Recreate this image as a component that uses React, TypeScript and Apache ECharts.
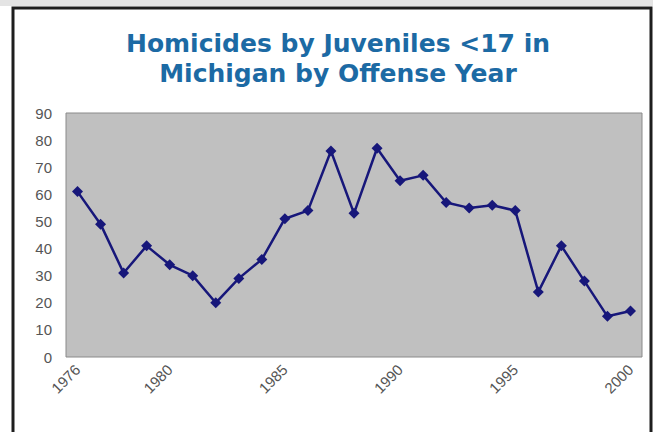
import React, { useEffect, useRef } from "react";
import * as echarts from "echarts";

const years: string[] = [
  "1976","1977","1978","1979","1980","1981","1982","1983","1984","1985",
  "1986","1987","1988","1989","1990","1991","1992","1993","1994","1995",
  "1996","1997","1998","1999","2000",
];
const homicides: number[] = [
  61, 49, 31, 41, 34, 30, 20, 29, 36, 51,
  54, 76, 53, 77, 65, 67, 57, 55, 56, 54,
  24, 41, 28, 15, 17,
];
const shownYearLabels: string[] = ["1976", "1980", "1985", "1990", "1995", "2000"];
const titleLines: string[] = ["Homicides by Juveniles <17 in", "Michigan by Offense Year"];

export default function App() {
  const ref = useRef<HTMLDivElement>(null);
  useEffect(() => {
    if (!ref.current) return;
    const chart = echarts.init(ref.current, null, { renderer: "svg" });
    chart.setOption({
      animation: false,
      backgroundColor: "#ffffff",
      title: {
        text: titleLines.join("\n"),
        left: 333,
        top: 23,
        textAlign: "center",
        textStyle: {
          color: "#1c6aa4",
          fontFamily: "DejaVu Sans, Verdana, sans-serif",
          fontWeight: "bold",
          fontSize: 25,
          lineHeight: 30,
        },
      },
      graphic: [
        {
          type: "rect",
          shape: { x: 0, y: 0, width: 653, height: 6 },
          style: { fill: "#e4e4e4" },
          silent: true,
        },
        {
          type: "polyline",
          shape: { points: [[13, 440], [13, 8], [651, 8], [651, 440]] },
          style: { stroke: "#1e1e1e", lineWidth: 3, fill: "none" },
          silent: true,
        },
      ],
      grid: {
        left: 66,
        right: 11,
        top: 113,
        bottom: 75,
        show: true,
        backgroundColor: "#c0c0c0",
        borderColor: "#8a8a8a",
        borderWidth: 1,
      },
      xAxis: {
        type: "category",
        data: years,
        boundaryGap: true,
        axisLine: { show: false },
        axisTick: { show: false },
        splitLine: { show: false },
        axisLabel: {
          interval: (_i: number, v: string) => shownYearLabels.includes(v),
          rotate: 45,
          margin: 10,
          color: "#555",
          fontSize: 15,
          fontFamily: "Liberation Sans, Arial, sans-serif",
        },
      },
      yAxis: {
        type: "value",
        min: 0,
        max: 90,
        interval: 10,
        axisLine: { show: false },
        axisTick: { show: false },
        splitLine: { show: false },
        axisLabel: {
          margin: 14,
          color: "#555",
          fontSize: 15,
          fontFamily: "Liberation Sans, Arial, sans-serif",
        },
      },
      series: [
        {
          type: "line",
          data: homicides,
          symbol: "diamond",
          symbolSize: 11,
          lineStyle: { color: "#17177a", width: 2.5 },
          itemStyle: { color: "#17177a" },
        },
      ],
    });
    return () => chart.dispose();
  }, []);
  return (
    <div
      ref={ref}
      style={{ position: "fixed", left: 0, top: 0, width: 653, height: 432 }}
    />
  );
}
